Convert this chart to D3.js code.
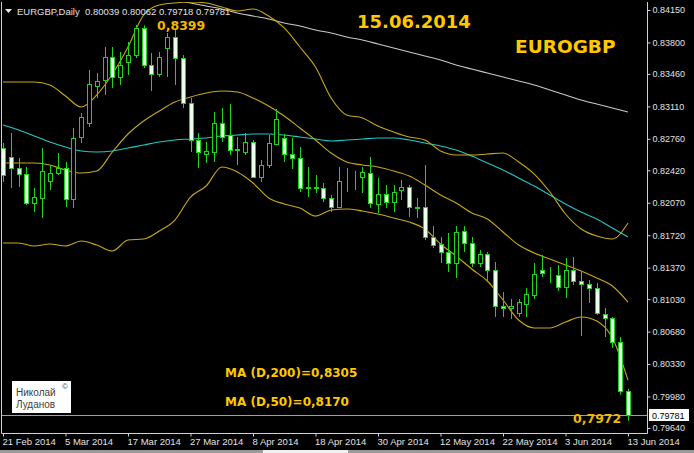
<!DOCTYPE html>
<html><head><meta charset="utf-8">
<script src="https://cdn.jsdelivr.net/npm/d3@7/dist/d3.min.js"></script>
<style>html,body{margin:0;padding:0;background:#000;overflow:hidden}svg{display:block}</style>
</head><body>
<svg id="chart" width="694" height="453"></svg>
<script>
// ---- data ----
const firstDay = "2014-02-21";
const lastDay = "2014-06-13";
const open  = [0.82661,0.82564,0.82445,0.82380,0.82068,0.82122,0.82305,0.82391,0.82445,0.82111,0.82780,0.82931,0.83330,0.83395,0.83643,0.83427,0.83589,0.83664,0.83956,0.83557,0.83459,0.83740,0.83859,0.83632,0.83147,0.82747,0.82596,0.82618,0.82931,0.82801,0.82650,0.82618,0.82726,0.82348,0.82478,0.82704,0.82769,0.82596,0.82553,0.82240,0.82229,0.82229,0.82122,0.82024,0.82305,0.82300,0.82348,0.82391,0.82057,0.82165,0.82078,0.82208,0.82240,0.82024,0.82024,0.81701,0.81625,0.81539,0.81420,0.81766,0.81636,0.81420,0.81517,0.81345,0.80956,0.80935,0.80881,0.80978,0.81075,0.81345,0.81345,0.81291,0.81161,0.81345,0.81226,0.81194,0.81150,0.80870,0.80827,0.80568,0.80039];
const high  = [0.82715,0.82823,0.82553,0.82456,0.82229,0.82661,0.82478,0.82607,0.82510,0.82877,0.83039,0.83503,0.83470,0.83751,0.83751,0.83697,0.83805,0.83990,0.83985,0.83686,0.83697,0.83902,0.83934,0.83664,0.83201,0.82823,0.82726,0.83049,0.83093,0.83136,0.82780,0.82823,0.82747,0.82532,0.82801,0.83082,0.82812,0.82769,0.82672,0.82456,0.82370,0.82283,0.82154,0.82456,0.82445,0.82413,0.82456,0.82564,0.82337,0.82262,0.82262,0.82316,0.82262,0.82122,0.82478,0.81819,0.81701,0.81744,0.81819,0.81819,0.81701,0.81560,0.81539,0.81431,0.81107,0.81032,0.81032,0.81150,0.81420,0.81506,0.81377,0.81399,0.81474,0.81485,0.81323,0.81237,0.81204,0.80935,0.80838,0.80622,0.80062];
const low   = [0.82294,0.82229,0.82240,0.82046,0.81970,0.81906,0.82208,0.82370,0.82024,0.82014,0.82715,0.82888,0.83201,0.83233,0.83308,0.83341,0.83449,0.83632,0.83524,0.83276,0.83427,0.83427,0.83341,0.83093,0.82618,0.82445,0.82499,0.82510,0.82726,0.82585,0.82478,0.82585,0.82337,0.82294,0.82445,0.82693,0.82510,0.82434,0.82186,0.82132,0.82175,0.82078,0.81970,0.82014,0.82186,0.82208,0.82175,0.82014,0.81960,0.82014,0.81970,0.82100,0.81917,0.81906,0.81668,0.81582,0.81420,0.81323,0.81258,0.81539,0.81377,0.81377,0.81215,0.80838,0.80838,0.80816,0.80838,0.80838,0.81032,0.81269,0.81204,0.81118,0.81042,0.81183,0.80632,0.80989,0.80859,0.80622,0.80503,0.80000,0.79718];
const close = [0.82370,0.82445,0.82380,0.82068,0.82132,0.82413,0.82391,0.82445,0.82111,0.82769,0.82996,0.83352,0.83384,0.83643,0.83427,0.83557,0.83664,0.83956,0.83557,0.83459,0.83643,0.83859,0.83632,0.83147,0.82747,0.82618,0.82629,0.82931,0.82780,0.82639,0.82639,0.82726,0.82348,0.82478,0.82715,0.82974,0.82596,0.82553,0.82229,0.82229,0.82235,0.82122,0.82024,0.82305,0.82300,0.82310,0.82402,0.82068,0.82165,0.82078,0.82186,0.82240,0.82024,0.82019,0.81701,0.81614,0.81539,0.81420,0.81755,0.81636,0.81420,0.81517,0.81345,0.80956,0.80935,0.80956,0.80999,0.81086,0.81301,0.81312,0.81340,0.81161,0.81345,0.81226,0.81194,0.81150,0.80881,0.80827,0.80568,0.80040,0.79781];
// indicator values, read every second bar
const bbUpper  = [0.83373,0.83373,0.83373,0.83341,0.83222,0.83103,0.83233,0.83459,0.83751,0.84096,0.84204,0.84226,0.84236,0.84226,0.84182,0.84139,0.84161,0.84085,0.83956,0.83751,0.83535,0.83201,0.83017,0.82985,0.82898,0.82834,0.82780,0.82747,0.82629,0.82585,0.82585,0.82596,0.82607,0.82510,0.82380,0.82186,0.81949,0.81787,0.81711,0.81679,0.81852];
const bbMiddle = [0.82499,0.82499,0.82499,0.82478,0.82424,0.82391,0.82413,0.82618,0.82812,0.82952,0.83060,0.83157,0.83211,0.83254,0.83276,0.83265,0.83201,0.83114,0.83006,0.82877,0.82747,0.82607,0.82510,0.82478,0.82456,0.82413,0.82359,0.82262,0.82154,0.82068,0.81960,0.81895,0.81755,0.81614,0.81528,0.81463,0.81399,0.81334,0.81258,0.81172,0.80999];
const bbLower  = [0.81636,0.81636,0.81603,0.81625,0.81603,0.81657,0.81614,0.81550,0.81668,0.81679,0.81765,0.81884,0.82132,0.82251,0.82456,0.82402,0.82283,0.82122,0.82057,0.82014,0.81927,0.81992,0.82003,0.81981,0.81949,0.81906,0.81862,0.81787,0.81625,0.81496,0.81355,0.81226,0.81021,0.80805,0.80719,0.80719,0.80783,0.80838,0.80794,0.80611,0.80157];
const ma50     = [0.82909,0.82855,0.82790,0.82726,0.82672,0.82629,0.82618,0.82629,0.82661,0.82693,0.82726,0.82747,0.82758,0.82769,0.82790,0.82801,0.82812,0.82812,0.82801,0.82780,0.82758,0.82737,0.82747,0.82758,0.82769,0.82769,0.82747,0.82715,0.82683,0.82639,0.82574,0.82499,0.82424,0.82337,0.82251,0.82154,0.82057,0.81970,0.81895,0.81798,0.81701];
const ma200    = [null,null,null,null,null,null,null,null,0.84344,0.84312,0.84280,0.84258,0.84226,0.84193,0.84161,0.84118,0.84085,0.84053,0.84010,0.83977,0.83934,0.83902,0.83859,0.83826,0.83783,0.83740,0.83697,0.83654,0.83611,0.83557,0.83513,0.83470,0.83427,0.83384,0.83341,0.83287,0.83233,0.83179,0.83136,0.83093,0.83050];
const yTickValues = [0.84150,0.83800,0.83460,0.83110,0.82760,0.82420,0.82070,0.81720,0.81370,0.81030,0.80680,0.80330,0.79980,0.79640];
const xTickLabels = ["21 Feb 2014","5 Mar 2014","17 Mar 2014","27 Mar 2014","8 Apr 2014","18 Apr 2014","30 Apr 2014","12 May 2014","22 May 2014","3 Jun 2014","13 Jun 2014"];
const headerText = ["EURGBP,Daily", "0.80039 0.80062 0.79718 0.79781"];
const lastPrice = 0.79781;
const titleDate = "15.06.2014";
const titlePair = "EUROGBP";
const highLabel = "0,8399";
const lowLabel = "0,7972";
const maLabels = ["MA (D,200)=0,8305", "MA (D,50)=0,8170"];
const author = ["Николай", "Луданов"];

// ---- dates (trading days) ----
const fmt = d3.utcFormat("%-d %b %Y");
const days = d3.utcDay.range(new Date(firstDay + "T00:00:00Z"), d3.utcDay.offset(new Date(lastDay + "T00:00:00Z"), 1))
  .filter(d => d.getUTCDay() !== 0 && d.getUTCDay() !== 6).map(fmt);
const bars = days.map((d, i) => ({date: d, o: open[i], h: high[i], l: low[i], c: close[i]}));
const lineDates = days.filter((d, i) => i % 2 === 0);

// ---- scales ----
const PL = 2, PR = 647, PT = 2, PB = 433;
const x = d3.scalePoint().domain(days).range([3, 628]);
const y = d3.scaleLinear().domain([0.79640, 0.84150]).range([428, 10]);

const svg = d3.select("#chart");
svg.append("rect").attr("width", 694).attr("height", 453).attr("fill", "#000");
svg.append("defs").append("clipPath").attr("id", "plot")
  .append("rect").attr("x", PL).attr("y", PT).attr("width", PR - PL).attr("height", PB - PT);
const plot = svg.append("g").attr("clip-path", "url(#plot)");

// current price line
plot.append("line").attr("x1", PL).attr("x2", PR)
  .attr("y1", Math.round(y(lastPrice)) + 0.5).attr("y2", Math.round(y(lastPrice)) + 0.5)
  .attr("stroke", "#a0a0a0").attr("stroke-width", 1);

// indicator lines
function drawLine(vals, color) {
  const gen = d3.line().defined(d => d != null)
    .x((d, k) => x(lineDates[k])).y(d => y(d)).curve(d3.curveMonotoneX);
  plot.append("path").datum(vals).attr("d", gen).attr("fill", "none")
    .attr("stroke", color).attr("stroke-width", 1.1);
}
drawLine(ma200, "#c8c8c8");
drawLine(ma50, "#22c6c6");
drawLine(bbUpper, "#c8a818");
drawLine(bbMiddle, "#c8a818");
drawLine(bbLower, "#c8a818");

// candles
const cg = plot.append("g");
const px = d => Math.round(x(d)) + 0.5;
cg.selectAll("line.wick").data(bars).join("line").attr("class", "wick")
  .attr("x1", d => px(d.date)).attr("x2", d => px(d.date))
  .attr("y1", d => y(d.h)).attr("y2", d => y(d.l))
  .attr("stroke", "#1ed21e").attr("stroke-width", 1);
cg.selectAll("rect.body").data(bars).join("rect").attr("class", "body")
  .attr("x", d => px(d.date) - 2).attr("width", 4)
  .attr("y", d => Math.round(y(Math.max(d.o, d.c))) + 0.5)
  .attr("height", d => Math.max(0, Math.round(y(Math.min(d.o, d.c))) - Math.round(y(Math.max(d.o, d.c)))))
  .attr("fill", d => d.c < d.o ? "#eaffea" : "#000")
  .attr("stroke", "#1ed21e").attr("stroke-width", 1);

// frame
const frame = svg.append("g").attr("stroke", "#d0d0d0").attr("stroke-width", 1).attr("fill", "none");
frame.append("path").attr("d", `M${PL - 0.5},${PT} V${PB + 0.5} H${PR + 0.5} V${PT}`);

// y axis
const yAxis = d3.axisRight(y).tickValues(yTickValues).tickFormat(d3.format(".5f")).tickSize(3).tickPadding(2);
const ya = svg.append("g").attr("transform", `translate(${PR + 0.5},0)`).call(yAxis);
ya.select(".domain").remove();
ya.selectAll(".tick line").attr("stroke", "#d0d0d0");
ya.selectAll(".tick text").attr("fill", "#e0e0e0").style("font", "9px 'Liberation Sans', Arial, sans-serif");

// last price tag
const lpY = Math.round(y(lastPrice));
svg.append("rect").attr("x", 649).attr("y", lpY - 6).attr("width", 40).attr("height", 12).attr("fill", "#fff");
svg.append("text").attr("x", 652).attr("y", lpY + 3.5).text(d3.format(".5f")(lastPrice))
  .attr("fill", "#000").style("font", "9px 'Liberation Sans', Arial, sans-serif");

// x axis
const xAxis = d3.axisBottom(x).tickValues(xTickLabels).tickSize(3).tickPadding(2);
const xa = svg.append("g").attr("transform", `translate(0,${PB + 0.5})`).call(xAxis);
xa.select(".domain").remove();
xa.selectAll(".tick line").attr("stroke", "#d0d0d0");
xa.selectAll(".tick text").attr("fill", "#e0e0e0").attr("text-anchor", "start").attr("dx", "-1")
  .style("font", "9.5px 'Liberation Sans', Arial, sans-serif");

// window bottom edge
svg.append("rect").attr("x", 0).attr("y", 450).attr("width", 694).attr("height", 3).attr("fill", "#9a9a9a");
svg.append("rect").attr("x", 263).attr("y", 450).attr("width", 85).attr("height", 3).attr("fill", "#f0f0f0");

// header
svg.append("path").attr("d", "M5,9 L12,9 L8.5,13 Z").attr("fill", "#e8e8e8");
svg.append("text").attr("x", 17).attr("y", 15).text(headerText[0]).attr("fill", "#e0e0e0")
  .style("font", "9.5px 'Liberation Sans', Arial, sans-serif");
svg.append("text").attr("x", 85).attr("y", 15).text(headerText[1]).attr("fill", "#e0e0e0")
  .style("font", "9.5px 'Liberation Sans', Arial, sans-serif");

// annotations
const gold = "#ffc800";
const bold = (s) => `bold ${s}px 'DejaVu Sans', sans-serif`;
svg.append("text").attr("x", 357).attr("y", 28).text(titleDate).attr("fill", gold).style("font", bold(18));
svg.append("text").attr("x", 515).attr("y", 53).text(titlePair).attr("fill", gold).style("font", bold(18.5));
svg.append("text").attr("x", 157).attr("y", 30).text(highLabel).attr("fill", "#f0b800").style("font", bold(12.5));
svg.append("text").attr("x", 573).attr("y", 423).text(lowLabel).attr("fill", "#f0b800").style("font", bold(12.5));
svg.append("text").attr("x", 225).attr("y", 377).text(maLabels[0]).attr("fill", gold).style("font", bold(12));
svg.append("text").attr("x", 225).attr("y", 406).text(maLabels[1]).attr("fill", gold).style("font", bold(12));

// author box
svg.append("rect").attr("x", 12).attr("y", 381).attr("width", 59).attr("height", 32).attr("fill", "#fff");
svg.append("text").attr("x", 16).attr("y", 396).text(author[0]).attr("fill", "#404040")
  .style("font", "10px 'Liberation Sans', Arial, sans-serif");
svg.append("text").attr("x", 16).attr("y", 408).text(author[1]).attr("fill", "#404040")
  .style("font", "10px 'Liberation Sans', Arial, sans-serif");
svg.append("text").attr("x", 62).attr("y", 389).text("©").attr("fill", "#404040")
  .style("font", "8px 'Liberation Sans', Arial, sans-serif");
</script>
</body></html>
